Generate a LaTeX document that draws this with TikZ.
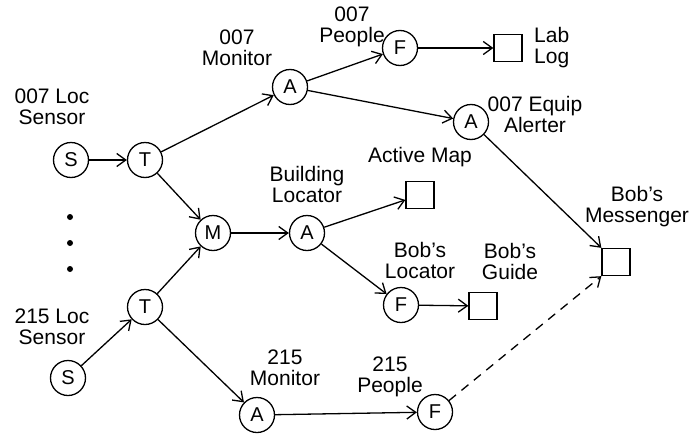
\documentclass[tikz,border=0pt]{standalone}
\usepackage{fontspec}
\setmainfont{Liberation Sans}
\usetikzlibrary{arrows.meta}
\begin{document}
\begin{tikzpicture}[x=1pt,y=-1pt,
  font=\fontsize{21}{21}\selectfont,
  proc/.style={circle,draw,line width=1.3pt,minimum size=35pt,inner sep=0pt,font=\fontsize{20}{20}\selectfont},
  sink/.style={rectangle,draw,line width=1.3pt,minimum width=28pt,minimum height=27pt,inner sep=0pt},
  lbl/.style={align=center,inner sep=0pt},
  conn/.style={line width=1.3pt,-{Straight Barb[length=9pt,width=13pt,line width=1.3pt]}},
  dotmark/.style={circle,fill,inner sep=0pt,minimum size=6pt}
]
\useasboundingbox (0,0) rectangle (693,434);
% nodes
\node[proc] (s1) at (71,160) {S};
\node[proc] (t1) at (145,160) {T};
\node[proc] (a1) at (290,87) {A};
\node[proc] (f1) at (400,48) {F};
\node[sink] (lab) at (508,48) {};
\node[proc] (a2) at (471,122) {A};
\node[proc] (m) at (213,233) {M};
\node[proc] (a3) at (307,233) {A};
\node[sink] (map) at (420,195) {};
\node[proc] (f2) at (401,305) {F};
\node[sink] (guide) at (483,306) {};
\node[sink] (msg) at (616,262) {};
\node[proc] (t2) at (145,307) {T};
\node[proc] (s2) at (68,378) {S};
\node[proc] (a4) at (257,415) {A};
\node[proc] (f3) at (435,412) {F};
% dots
\node[dotmark] (d1) at (70,217) {};
\node[dotmark] (d2) at (70,243) {};
\node[dotmark] (d3) at (70,269) {};
% labels
\node[lbl] (l1) at (52,107) {007 Loc\\Sensor};
\node[lbl] (l2) at (237,48) {007\\Monitor};
\node[lbl] (l3) at (352,27) {007\\People};
\node[lbl,align=left,anchor=west] (l4) at (534,48) {Lab\\Log};
\node[lbl] (l5) at (535,114) {007 Equip\\Alerter};
\node[lbl] (l6) at (420,157) {Active Map};
\node[lbl] (l7) at (307,184) {Building\\Locator};
\node[lbl] (l8) at (637,207) {Bob's\\Messenger};
\node[lbl] (l9) at (420,260) {Bob's\\Locator};
\node[lbl] (l10) at (510,261) {Bob's\\Guide};
\node[lbl] (l11) at (52,327) {215 Loc\\Sensor};
\node[lbl] (l12) at (285,368) {215\\Monitor};
\node[lbl] (l13) at (390,377) {215\\People};
% connectors
\draw[conn] (s1) -- (t1);
\draw[conn] (t1) -- (a1);
\draw[conn] (t1) -- (m);
\draw[conn] (a1) -- (f1);
\draw[conn] (a1) -- (a2);
\draw[conn] (f1) -- (lab);
\draw[conn] (a2) -- (msg.north west);
\draw[conn] (m) -- (a3);
\draw[conn] (a3) -- (map);
\draw[conn] (a3) -- (f2);
\draw[conn] (f2) -- (guide);
\draw[conn] (s2) -- (t2);
\draw[conn] (t2) -- (m);
\draw[conn] (t2) -- (a4);
\draw[conn] (a4) -- (f3);
\draw[conn,dash pattern=on 9pt off 7pt] (f3) -- (msg.south west);
\end{tikzpicture}
\end{document}
